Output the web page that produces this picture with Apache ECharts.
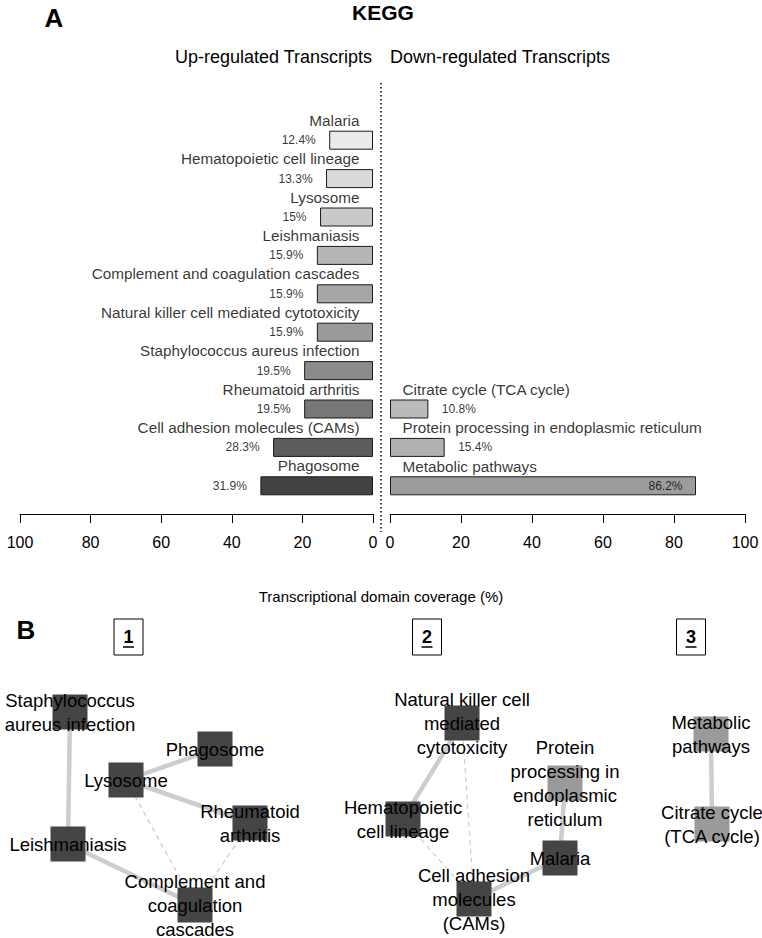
<!DOCTYPE html>
<html><head><meta charset="utf-8">
<script src="https://cdn.jsdelivr.net/npm/echarts@6/dist/echarts.min.js"></script>
<style>html,body{margin:0;padding:0;background:#fff}#c{width:762px;height:938px}</style>
</head><body><div id="c"></div>
<script>
// ---- Panel A data ----
const upCategories = ['Malaria','Hematopoietic cell lineage','Lysosome','Leishmaniasis','Complement and coagulation cascades','Natural killer cell mediated cytotoxicity','Staphylococcus aureus infection','Rheumatoid arthritis','Cell adhesion molecules (CAMs)','Phagosome'];
const upValues = [12.4, 13.3, 15, 15.9, 15.9, 15.9, 19.5, 19.5, 28.3, 31.9];
const upColors = ['#ebebeb','#dadada','#c9c9c9','#b6b6b6','#a6a6a6','#9a9a9a','#8b8b8b','#777777','#5c5c5c','#424242'];
const downCategories = ['Citrate cycle (TCA cycle)','Protein processing in endoplasmic reticulum','Metabolic pathways'];
const downValues = [10.8, 15.4, 86.2];
const downRows = [7, 8, 9];
const downColors = ['#bababa','#b0b0b0','#9c9c9c'];
const axisTicks = [0, 20, 40, 60, 80, 100];

// ---- Panel B data (network layout) ----
const nodeNames = ['Staphylococcus aureus infection','Phagosome','Lysosome','Rheumatoid arthritis','Leishmaniasis','Complement and coagulation cascades','Natural killer cell mediated cytotoxicity','Hematopoietic cell lineage','Protein processing in endoplasmic reticulum','Malaria','Cell adhesion molecules (CAMs)','Metabolic pathways','Citrate cycle (TCA cycle)'];
const nodeLabels = ['Staphylococcus\naureus infection','Phagosome','Lysosome','Rheumatoid\narthritis','Leishmaniasis','Complement and\ncoagulation\ncascades','Natural killer cell\nmediated\ncytotoxicity','Hematopoietic\ncell lineage','Protein\nprocessing in\nendoplasmic\nreticulum','Malaria','Cell adhesion\nmolecules\n(CAMs)','Metabolic\npathways','Citrate cycle\n(TCA cycle)'];
const nodeX = [70, 215, 126, 250, 68, 195, 462, 403, 565, 560, 474, 711, 712];
const nodeY = [712, 749, 780, 823, 844, 905, 723, 819, 783, 858, 899, 734, 824];
const nodeRegulation = ['up','up','up','up','up','up','up','up','down','up','up','down','down'];
const edgeSource = [0, 2, 2, 4, 2, 3, 6, 6, 7, 8, 9, 11];
const edgeTarget = [4, 1, 3, 5, 5, 5, 7, 10, 10, 9, 10, 12];
const edgeKind = ['solid','solid','solid','solid','dashed','dashed','solid','dashed','dashed','solid','solid','solid'];
const clusterNames = ['1','2','3'];
const clusterX = [128.5, 427, 691];

const FONT = '"Liberation Sans", Arial, Helvetica, sans-serif';
const chart = echarts.init(document.getElementById('c'), null, {renderer:'svg', width:762, height:938});

function valueAxis(grid, inverse){
  return {gridIndex:grid, type:'value', min:axisTicks[0], max:axisTicks[axisTicks.length-1], interval:axisTicks[1]-axisTicks[0], inverse:inverse, offset:9,
    axisLine:{show:true, lineStyle:{color:'#000', width:1}},
    axisTick:{show:true, length:9, lineStyle:{color:'#000', width:1}},
    axisLabel:{fontSize:16, color:'#000', margin:20, fontFamily:FONT, showMinLabel:true, showMaxLabel:true},
    splitLine:{show:false}};
}

const downBarData = upCategories.map((_, i) => {
  const k = downRows.indexOf(i);
  return k < 0 ? '-' : {value: downValues[k], itemStyle:{color: downColors[k]}};
});

const labelBase = {fontFamily:FONT, color:'#000'};
const hiddenSym = {symbolSize:1, itemStyle:{color:'rgba(0,0,0,0)'}, silent:true, z:5};

const graphics = [
  {type:'text', x:54, y:18, style:{text:'A', font:'bold 26px '+FONT, fill:'#000', align:'center', verticalAlign:'middle'}},
  {type:'text', x:383, y:12, style:{text:'KEGG', font:'bold 21px '+FONT, fill:'#000', align:'center', verticalAlign:'middle'}},
  {type:'text', x:372, y:57, style:{text:'Up-regulated Transcripts', font:'18px '+FONT, fill:'#000', align:'right', verticalAlign:'middle'}},
  {type:'text', x:390, y:57, style:{text:'Down-regulated Transcripts', font:'18px '+FONT, fill:'#000', align:'left', verticalAlign:'middle'}},
  {type:'line', shape:{x1:381, y1:83, x2:381, y2:532}, style:{stroke:'#000', lineWidth:1.5, lineDash:[1.5,2.5]}},
  {type:'text', x:381, y:596, style:{text:'Transcriptional domain coverage (%)', font:'15px '+FONT, fill:'#000', align:'center', verticalAlign:'middle'}},
  {type:'text', x:26, y:630, style:{text:'B', font:'bold 26px '+FONT, fill:'#000', align:'center', verticalAlign:'middle'}}
];
clusterNames.forEach((n, i) => {
  const cx = clusterX[i];
  graphics.push({type:'rect', shape:{x:cx-14.5, y:619, width:29, height:36}, style:{fill:'#fff', stroke:'#000', lineWidth:1}});
  graphics.push({type:'text', x:cx, y:637, style:{text:n, font:'bold 18px '+FONT, fill:'#000', align:'center', verticalAlign:'middle'}});
  graphics.push({type:'line', shape:{x1:cx-5.5, y1:647, x2:cx+5.5, y2:647}, style:{stroke:'#000', lineWidth:1.5}});
});

const option = {
  animation:false,
  backgroundColor:'#fff',
  textStyle:{fontFamily:FONT},
  grid:[
    {left:20, top:121, width:353, height:384},
    {left:390, top:121, width:355, height:384},
    {left:0, top:600, width:762, height:338}
  ],
  xAxis:[
    valueAxis(0, true),
    valueAxis(1, false),
    {gridIndex:2, type:'value', min:0, max:762, show:false}
  ],
  yAxis:[
    {gridIndex:0, type:'category', data:upCategories, inverse:true, show:false},
    {gridIndex:1, type:'category', data:upCategories.map((_, i) => 'row' + i), inverse:true, show:false},
    {gridIndex:2, type:'value', min:600, max:938, inverse:true, show:false}
  ],
  graphic:graphics,
  series:[
    {type:'bar', xAxisIndex:0, yAxisIndex:0, barWidth:19, silent:true,
      itemStyle:{borderColor:'#1a1a1a', borderWidth:1},
      data:upValues.map((v, i) => ({value:v, itemStyle:{color:upColors[i]}}))},
    {type:'bar', xAxisIndex:1, yAxisIndex:1, barWidth:19, silent:true,
      itemStyle:{borderColor:'#1a1a1a', borderWidth:1},
      data:downBarData},
    Object.assign({type:'scatter', xAxisIndex:0, yAxisIndex:0,
      data:upCategories.map((c, i) => [0, i]),
      label:Object.assign({show:true, position:'left', distance:13, offset:[0,-20], fontSize:15.3,
        formatter:p => upCategories[p.dataIndex]}, labelBase)}, hiddenSym),
    Object.assign({type:'scatter', xAxisIndex:0, yAxisIndex:0,
      data:upValues.map((v, i) => [v, i]),
      label:Object.assign({show:true, position:'left', distance:13, fontSize:12,
        formatter:p => upValues[p.dataIndex] + '%'}, labelBase)}, hiddenSym),
    Object.assign({type:'scatter', xAxisIndex:1, yAxisIndex:1,
      data:downRows.map(r => [0, r]),
      label:Object.assign({show:true, position:'right', distance:12, offset:[0,-19.5], fontSize:15.3,
        formatter:p => downCategories[p.dataIndex]}, labelBase)}, hiddenSym),
    Object.assign({type:'scatter', xAxisIndex:1, yAxisIndex:1,
      data:downValues.map((v, k) => ({value:[v, downRows[k]], label:{position: v > 50 ? 'left' : 'right'}})),
      label:Object.assign({show:true, distance:13, fontSize:12,
        formatter:p => downValues[p.dataIndex] + '%'}, labelBase)}, hiddenSym),
    {type:'graph', layout:'none', coordinateSystem:'cartesian2d', xAxisIndex:2, yAxisIndex:2,
      symbol:'rect', symbolSize:35, silent:true, roam:false, z:3,
      label:{show:true, position:'inside', fontSize:18.5, lineHeight:24, color:'#000', fontFamily:FONT, align:'center'},
      lineStyle:{opacity:1},
      data:nodeNames.map((n, i) => ({name:n, value:[nodeX[i], nodeY[i]],
        itemStyle:{color: nodeRegulation[i] === 'up' ? '#454545' : '#9a9a9a'},
        label:{formatter: nodeLabels[i]}})),
      links:edgeSource.map((s, i) => ({source:nodeNames[s], target:nodeNames[edgeTarget[i]],
        lineStyle: edgeKind[i] === 'solid'
          ? {color:'#cdcdcd', width:4.5, type:'solid', opacity:1}
          : {color:'#cccccc', width:1.2, type:[5,4], opacity:1}}))}
  ]
};
chart.setOption(option);
</script></body></html>
